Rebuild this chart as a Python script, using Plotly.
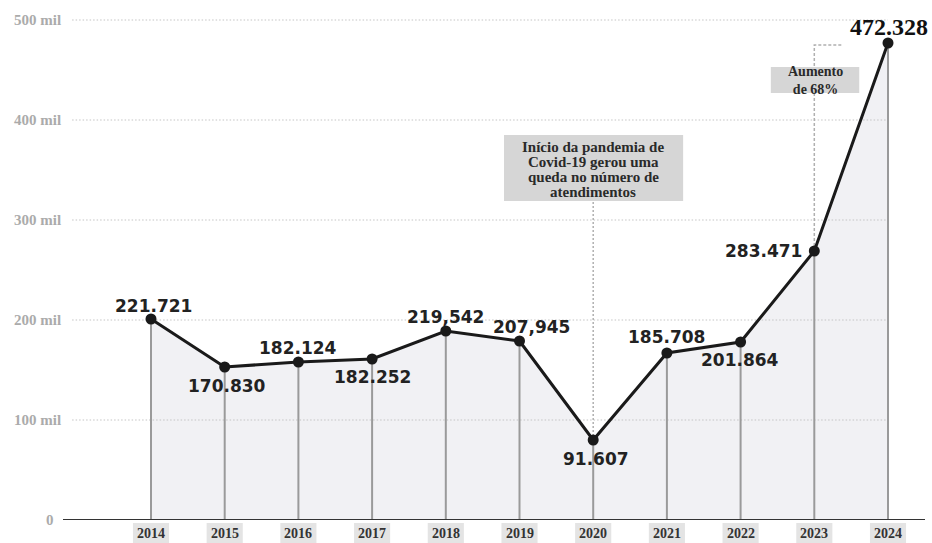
import plotly.graph_objects as go

years = [2014, 2015, 2016, 2017, 2018, 2019, 2020, 2021, 2022, 2023, 2024]
# plotted heights as drawn in the picture (thousands)
values = [201, 153, 158, 161, 189, 179, 80, 167, 178, 269, 477]
value_labels = ["221.721", "170.830", "182.124", "182.252", "219,542", "207,945",
                "91.607", "185.708", "201.864", "283.471", "472.328"]
y_ticks = [100, 200, 300, 400, 500]
y_tick_labels = ["100 mil", "200 mil", "300 mil", "400 mil", "500 mil"]
note_2020 = ["Início da pandemia de", "Covid-19 gerou uma", "queda no número de", "atendimentos"]
note_2023 = ["Aumento", "de 68%"]

# label offsets (px) relative to each point
label_shift = [(2, 13), (2, -19), (0, 14), (0, -18), (0, 14), (12, 14),
               (3, -19), (0, 16), (-1, -18), (-51, 0), (1, 16)]

SERIF = "Liberation Serif"
SANS = "DejaVu Sans"

XMIN, XMAX = 2012.806, 2024.502
fig = go.Figure()

# area fill
fig.add_trace(go.Scatter(x=years, y=values, mode="none", fill="tozeroy",
                         fillcolor="#f1f1f4", hoverinfo="skip", showlegend=False))
# gridlines
for t in y_ticks:
    fig.add_trace(go.Scatter(x=[2012.93, years[-1]], y=[t, t], mode="lines",
                             line=dict(color="#c4c4c4", width=1, dash="1.5px,2px"),
                             hoverinfo="skip", showlegend=False))
# vertical drop lines
vx, vy = [], []
for x, v in zip(years, values):
    vx += [x, x, None]
    vy += [0, v, None]
fig.add_trace(go.Scatter(x=vx, y=vy, mode="lines", line=dict(color="#9a9a9a", width=2),
                         hoverinfo="skip", showlegend=False))
# guide lines for notes
fig.add_trace(go.Scatter(x=[2020, 2020], y=[values[6], 319], mode="lines",
                         line=dict(color="#b0b0b0", width=1.5, dash="2px,2px"),
                         hoverinfo="skip", showlegend=False))
fig.add_trace(go.Scatter(x=[2023, 2023, 2023.37], y=[values[9], 475, 475], mode="lines",
                         line=dict(color="#b0b0b0", width=1.5, dash="3px,2px"),
                         hoverinfo="skip", showlegend=False))
# main line
fig.add_trace(go.Scatter(x=years, y=values, mode="lines+markers",
                         line=dict(color="#1a1a1a", width=3),
                         marker=dict(color="#1a1a1a", size=11),
                         hoverinfo="skip", showlegend=False))

shapes = []
annotations = []

# baseline
shapes.append(dict(type="line", xref="paper", yref="y", x0=0, x1=1, y0=0, y1=0,
                   line=dict(color="#333333", width=2), layer="above"))

# year boxes and labels
for x in years:
    shapes.append(dict(type="rect", xref="x", yref="paper", x0=x - 0.245, x1=x + 0.245,
                       y0=-23 / 520, y1=-3 / 520, fillcolor="#e4e4e4", line=dict(width=0),
                       layer="above"))
    annotations.append(dict(x=x, y=-13 / 520, xref="x", yref="paper", text=f"<b>{x}</b>",
                            showarrow=False, xanchor="center", yanchor="middle",
                            font=dict(family=SERIF, size=14, color="#333333")))

# y tick labels
for t, lab in zip(y_ticks, y_tick_labels):
    annotations.append(dict(x=(12 - 63) / 862, y=t, xref="paper", yref="y", text=f"<b>{lab}</b>",
                            showarrow=False, xanchor="left", yanchor="middle",
                            font=dict(family=SERIF, size=15, color="#ababab")))
annotations.append(dict(x=(50 - 63) / 862, y=0, xref="paper", yref="y", text="<b>0</b>",
                        showarrow=False, xanchor="center", yanchor="middle",
                        font=dict(family=SERIF, size=15, color="#ababab")))

# value labels
for i, (x, v, lab) in enumerate(zip(years, values, value_labels)):
    dx, dy = label_shift[i]
    if i == len(years) - 1:
        font = dict(family=SERIF, size=24, color="#111111")
    else:
        font = dict(family=SANS, size=17, color="#222222")
    annotations.append(dict(x=x, y=v, xref="x", yref="y", text=f"<b>{lab}</b>",
                            showarrow=False, xanchor="center", yanchor="middle",
                            xshift=dx, yshift=dy, font=font))

# note boxes
shapes.append(dict(type="rect", xref="x", yref="y", x0=2018.79, x1=2021.22, y0=319, y1=385,
                   fillcolor="#d6d6d6", line=dict(width=0), layer="above"))
for k, line in enumerate(note_2020):
    annotations.append(dict(x=2020.0, y=373 - 15 * k, xref="x", yref="y", text=f"<b>{line}</b>",
                            showarrow=False, xanchor="center", yanchor="middle",
                            font=dict(family=SERIF, size=15, color="#2a2a2a")))
shapes.append(dict(type="rect", xref="x", yref="y", x0=2022.41, x1=2023.61, y0=427, y1=453,
                   fillcolor="#d6d6d6", line=dict(width=0), layer="above"))
annotations.append(dict(x=2023.02, y=440, xref="x", yref="y",
                        text="<br>".join(f"<b>{s}</b>" for s in note_2023),
                        showarrow=False, xanchor="center", yanchor="middle",
                        font=dict(family=SERIF, size=14, color="#2a2a2a")))

fig.update_layout(
    width=932, height=543,
    margin=dict(l=63, r=7, t=0, b=23),
    paper_bgcolor="white", plot_bgcolor="white",
    xaxis=dict(range=[XMIN, XMAX], visible=False, fixedrange=True),
    yaxis=dict(range=[0, 520], visible=False, fixedrange=True),
    shapes=shapes, annotations=annotations,
    showlegend=False, hovermode=False,
)

fig.write_html("out.html", config={"displayModeBar": False},
               post_script="document.body.style.margin='0';document.body.style.overflow='hidden';")
